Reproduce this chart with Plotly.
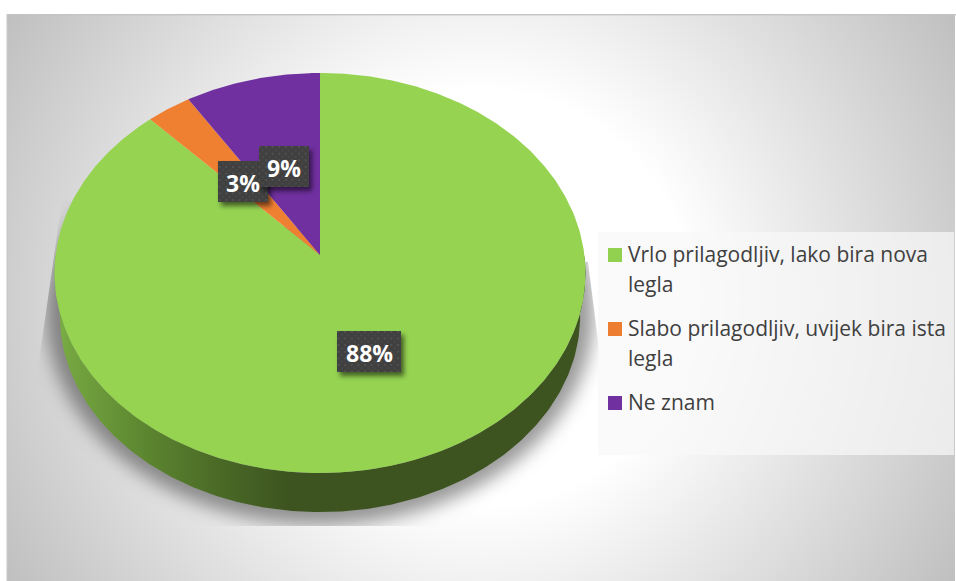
import base64
import numpy as np
import plotly.graph_objects as go

# ---- data ----
categories = ["Vrlo prilagodljiv, lako bira nova legla",
              "Slabo prilagodljiv, uvijek bira ista legla",
              "Ne znam"]
legend_lines = [["Vrlo prilagodljiv, lako bira nova", "legla"],
                ["Slabo prilagodljiv, uvijek bira ista", "legla"],
                ["Ne znam"]]
values = [88, 3, 9]
value_labels = ["88%", "3%", "9%"]
colors = ["#95d351", "#ef7f31", "#7030a0"]
swatches = ["#92d050", "#ed7d31", "#7030a0"]

W, H = 956, 581
CX, CY = 320, 255          # pie apex on screen
A, B, K = 264.4, 198.4, 0.09  # perspective tilt of the disc
DROP, SHRINK = 43.4, 0.98  # lower rim of the 3-D disc
label_boxes = {"3%": (218, 161, 268, 202), "88%": (337, 331, 401, 372), "9%": (259, 146, 309, 187)}
legend_box = (598, 232, 954, 455)


def disc(theta, s=1.0, dy=0.0):
    X, Y = np.sin(theta), np.cos(theta)
    d = 1 + K * Y
    return CX + s * A * X / d, CY + dy - s * B * Y / d


def uri(svg):
    return "data:image/svg+xml;base64," + base64.b64encode(svg.encode()).decode()


bg_svg = f'''<svg xmlns="http://www.w3.org/2000/svg" width="{W}" height="{H}" viewBox="0 0 {W} {H}">
<defs>
<radialGradient id="g" gradientUnits="userSpaceOnUse" cx="481" cy="298" r="560">
<stop offset="0.37" stop-color="#ffffff"/><stop offset="1" stop-color="#bebebe"/></radialGradient>
<filter id="b" x="-20%" y="-20%" width="140%" height="140%"><feGaussianBlur stdDeviation="9"/></filter>
<clipPath id="c"><path d="M62 200 L37 375 L37 526 L612 526 L603 380 L588 262 Z"/></clipPath>
</defs>
<rect width="{W}" height="{H}" fill="#ffffff"/>
<rect x="7" y="15" width="948" height="566" fill="url(#g)"/>
<rect x="7" y="14" width="949" height="1.4" fill="#c4c4c4"/>
<rect x="6.5" y="14" width="1.2" height="567" fill="#c8c8c8"/>
<g clip-path="url(#c)"><ellipse cx="320" cy="312" rx="274" ry="213" fill="#000" fill-opacity="0.4" filter="url(#b)"/></g>
</svg>'''

boxes = ""
for lab in ["3%", "88%", "9%"]:
    x0, y0, x1, y1 = label_boxes[lab]
    w, h = x1 - x0, y1 - y0
    boxes += (f'<rect x="{x0+3}" y="{y0+4}" width="{w}" height="{h}" fill="#000" fill-opacity="0.55" filter="url(#s)"/>'
              f'<rect x="{x0}" y="{y0}" width="{w}" height="{h}" fill="#404040"/>'
              f'<rect x="{x0}" y="{y0}" width="{w}" height="{h}" fill="url(#p)"/>')
fg_svg = f'''<svg xmlns="http://www.w3.org/2000/svg" width="{W}" height="{H}" viewBox="0 0 {W} {H}">
<defs><filter id="s" x="-30%" y="-30%" width="160%" height="160%"><feGaussianBlur stdDeviation="2.6"/></filter>
<pattern id="p" patternUnits="userSpaceOnUse" width="6.6" height="6.6">
<circle cx="2" cy="2" r="1" fill="#555555"/><circle cx="5.3" cy="5.3" r="1" fill="#4a4a4a"/></pattern></defs>
{boxes}</svg>'''

fig = go.Figure()

# side wall of the disc
t = np.linspace(np.pi / 2, 3 * np.pi / 2, 240)
ux, uy = disc(t)
lx, ly = disc(t, SHRINK, DROP)
fig.add_trace(go.Scatter(
    x=np.r_[ux, lx[::-1], ux[0]], y=np.r_[uy, ly[::-1], uy[0]],
    mode="lines", line=dict(width=0), hoverinfo="skip", showlegend=False,
    fill="toself",
    fillgradient=dict(type="horizontal", start=54, stop=585,
                      colorscale=[[0, "#7eb246"], [0.03, "#74a540"], [0.18, "#5b842f"],
                                  [0.31, "#4a6a26"], [0.44, "#3d5420"], [1, "#3d5420"]])))

# top face: one slice per value, clockwise from twelve o'clock
shares = np.array(values, dtype=float) / sum(values)
edges = np.r_[0, np.cumsum(shares)] * 2 * np.pi
for name, col, a0, a1 in zip(categories, colors, edges[:-1], edges[1:]):
    th = np.linspace(a0, a1, max(int((a1 - a0) * 120), 8))
    px, py = disc(th)
    fig.add_trace(go.Scatter(
        x=np.r_[CX, px, CX], y=np.r_[CY, py, CY], mode="lines",
        line=dict(width=0), fill="toself", fillcolor=col, name=name,
        hoverinfo="name", showlegend=False))

# legend swatches
swatch_y = [255, 329, 403]
fig.add_trace(go.Scatter(x=[615] * 3, y=swatch_y, mode="markers", hoverinfo="skip", showlegend=False,
                         marker=dict(symbol="square", size=14, color=swatches, line=dict(width=0))))

annotations = []
line_y = [[254, 284], [328, 358], [402]]
for lines, ys in zip(legend_lines, line_y):
    for txt, y in zip(lines, ys):
        annotations.append(dict(x=626, y=y, text=txt, xref="x", yref="y", xanchor="left", yanchor="middle",
                                showarrow=False, font=dict(family="Open Sans", size=21, color="#404040")))
for lab in value_labels:
    x0, y0, x1, y1 = label_boxes[lab]
    annotations.append(dict(x=(x0 + x1) / 2, y=(y0 + y1) / 2 + 1, text=f"<b>{lab}</b>", xref="x", yref="y",
                            showarrow=False, font=dict(family="Open Sans", size=23, color="#ffffff")))

fig.update_layout(
    width=W, height=H, margin=dict(l=0, r=0, t=0, b=0), showlegend=False,
    paper_bgcolor="#ffffff", plot_bgcolor="rgba(0,0,0,0)",
    xaxis=dict(range=[0, W], visible=False, fixedrange=True),
    yaxis=dict(range=[H, 0], visible=False, fixedrange=True),
    images=[dict(source=uri(bg_svg), xref="paper", yref="paper", x=0, y=1, sizex=1, sizey=1,
                 sizing="stretch", layer="below"),
            dict(source=uri(fg_svg), xref="paper", yref="paper", x=0, y=1, sizex=1, sizey=1,
                 sizing="stretch", layer="above")],
    shapes=[dict(type="rect", xref="x", yref="y", x0=legend_box[0], y0=legend_box[1], x1=legend_box[2],
                 y1=legend_box[3], fillcolor="rgba(248,248,248,0.72)", line=dict(width=0), layer="below")],
    annotations=annotations)

fig.write_html("out.html", config=dict(displayModeBar=False),
               post_script="document.body.style.margin='0';document.body.style.overflow='hidden';")
